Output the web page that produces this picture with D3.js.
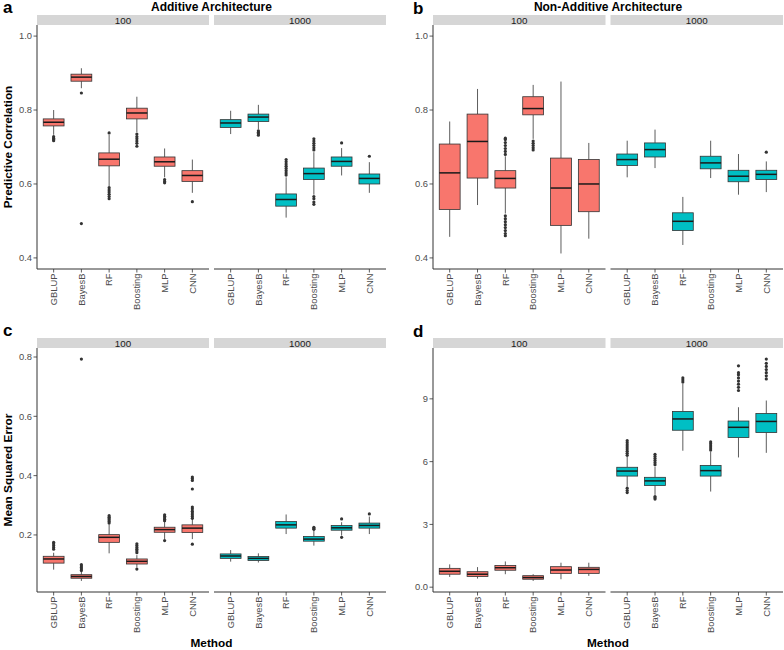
<!DOCTYPE html>
<html><head><meta charset="utf-8">
<script src="https://cdn.jsdelivr.net/npm/d3@7"></script>
<style>
html,body{margin:0;padding:0;background:#fff;}
svg{display:block;font-family:"Liberation Sans",Arial,sans-serif;}
</style></head>
<body>
<svg id="chart" width="784" height="650"></svg>
<script>
const methods = ["GBLUP","BayesB","RF","Boosting","MLP","CNN"];
const facets = ["100","1000"];
const facetColors = ["#F8766D","#00BFC4"];
const tickCor = [0.4,0.6,0.8,1.0];
const tickMseAdd = [0.2,0.4,0.6,0.8];
const tickMseNon = [0,3,6,9];

// box stats: [lower whisker, q1, median, q3, upper whisker]
const addCor100 = [
 [0.733,0.757,0.767,0.776,0.800],
 [0.859,0.878,0.889,0.897,0.913],
 [0.594,0.649,0.667,0.684,0.733],
 [0.740,0.776,0.792,0.805,0.836],
 [0.618,0.648,0.660,0.673,0.696],
 [0.576,0.607,0.623,0.636,0.666]];
const addCor100Out = [[0.728,0.724,0.720,0.717],[0.846,0.493],[0.738,0.590,0.584,0.578,0.572,0.566,0.560],[0.735,0.728,0.722,0.716,0.710,0.702],[0.612,0.607,0.603],[0.552]];
const addCor1000 = [
 [0.735,0.753,0.765,0.774,0.798],
 [0.748,0.769,0.781,0.789,0.814],
 [0.509,0.540,0.558,0.573,0.618],
 [0.571,0.612,0.628,0.643,0.686],
 [0.623,0.648,0.661,0.673,0.697],
 [0.576,0.600,0.615,0.627,0.659]];
const addCor1000Out = [[],[0.744,0.740,0.736,0.732],[0.624,0.630,0.636,0.642,0.648,0.654,0.660,0.666],[0.692,0.698,0.704,0.710,0.716,0.722,0.566,0.560,0.551,0.545],[0.711],[0.675]];

const nonCor100 = [
 [0.457,0.531,0.630,0.708,0.769],
 [0.543,0.616,0.715,0.789,0.857],
 [0.520,0.589,0.615,0.636,0.675],
 [0.722,0.787,0.804,0.836,0.868],
 [0.412,0.488,0.589,0.670,0.877],
 [0.452,0.525,0.600,0.666,0.711]];
const nonCor100Out = [[],[],[0.680,0.688,0.696,0.704,0.712,0.720,0.724,0.514,0.506,0.498,0.490,0.482,0.474,0.466,0.460],[0.716,0.710,0.704,0.698,0.692],[],[]];
const nonCor1000 = [
 [0.618,0.650,0.666,0.681,0.717],
 [0.643,0.673,0.693,0.711,0.747],
 [0.435,0.474,0.499,0.522,0.565],
 [0.616,0.641,0.657,0.675,0.717],
 [0.571,0.606,0.621,0.637,0.681],
 [0.578,0.612,0.626,0.637,0.661]];
const nonCor1000Out = [[],[],[],[],[],[0.686]];

const addMse100 = [
 [0.083,0.105,0.119,0.128,0.140],
 [0.045,0.054,0.060,0.066,0.075],
 [0.138,0.175,0.192,0.201,0.235],
 [0.090,0.102,0.111,0.119,0.132],
 [0.186,0.209,0.218,0.226,0.245],
 [0.186,0.208,0.223,0.234,0.275]];
const addMse100Out = [[0.152,0.158,0.164,0.170,0.175],[0.080,0.085,0.090,0.095,0.100,0.793],[0.240,0.245,0.250,0.255,0.260,0.265],[0.140,0.146,0.152,0.158,0.164,0.170,0.085],[0.248,0.253,0.258,0.263,0.268,0.181],[0.256,0.262,0.268,0.274,0.280,0.288,0.294,0.355,0.384,0.390,0.395,0.169]];
const addMse1000 = [
 [0.110,0.121,0.129,0.136,0.149],
 [0.107,0.114,0.121,0.127,0.138],
 [0.203,0.223,0.234,0.245,0.269],
 [0.164,0.179,0.186,0.195,0.216],
 [0.198,0.216,0.224,0.232,0.243],
 [0.203,0.223,0.232,0.240,0.262]];
const addMse1000Out = [[],[],[],[0.219,0.222,0.226],[0.254,0.192],[0.271]];

const nonMse100 = [
 [0.49,0.62,0.76,0.90,1.09],
 [0.41,0.51,0.62,0.74,0.96],
 [0.62,0.81,0.93,1.04,1.23],
 [0.30,0.38,0.46,0.55,0.62],
 [0.38,0.66,0.82,0.98,1.17],
 [0.54,0.66,0.85,0.95,1.17]];
const nonMse100Out = [[],[],[],[],[],[]];
const nonMse1000 = [
 [4.81,5.31,5.55,5.73,6.23],
 [4.41,4.86,5.08,5.25,5.76],
 [6.52,7.50,8.04,8.40,9.71],
 [4.57,5.31,5.57,5.82,6.47],
 [6.20,7.15,7.64,7.94,8.60],
 [6.42,7.39,7.92,8.30,8.92]];
const nonMse1000Out = [[6.30,6.40,6.50,6.60,6.70,6.80,6.90,7.00,4.73,4.62,4.52],[5.85,5.95,6.05,6.15,6.25,6.35,4.33,4.27,4.21],[9.80,9.90,10.00],[6.55,6.65,6.75,6.85,6.94],[9.40,9.55,9.70,9.85,10.00,10.15,10.25,10.58],[9.95,10.10,10.25,10.40,10.55,10.70,10.90]];

const svg = d3.select("#chart");
const inkTick = "#4d4d4d", inkAxis = "#333333";

function panel(opt) {
  const {x0, x1, y0, y1, letter, title, ytitle, xtitle, stats, outs, ticks, fixed} = opt;
  let dom;
  if (fixed) dom = [fixed[0] - 0.05*(fixed[1]-fixed[0]), fixed[1] + 0.05*(fixed[1]-fixed[0])];
  else {
    const all = [];
    stats.forEach(s => s.forEach(b => all.push(b[0], b[4])));
    outs.forEach(o => o.forEach(l => l.forEach(v => all.push(v))));
    const lo = d3.min(all), hi = d3.max(all), r = hi - lo;
    dom = [lo - 0.05*r, hi + 0.05*r];
  }
  const y = d3.scaleLinear().domain(dom).range([y1, y0]);
  const g = svg.append("g");
  const gap = 5;
  const fw = (x1 - x0 - gap) / 2;
  const stripH = 10;

  facets.forEach((f, fi) => {
    const fx0 = x0 + fi*(fw + gap), fx1 = fx0 + fw;
    const x = d3.scalePoint().domain(methods).range([fx0, fx1]).padding(0.6);
    const bw = x.step() * 0.75;
    // strip
    g.append("rect").attr("x", fx0).attr("y", y0 - stripH).attr("width", fw).attr("height", stripH)
      .attr("fill", "#d6d6d6");
    g.append("text").attr("x", (fx0 + fx1)/2).attr("y", y0 - stripH/2).attr("dy", "0.36em")
      .attr("text-anchor", "middle").attr("font-size", 9.8).attr("fill", "#1a1a1a").text(f);
    // boxes
    const bg = g.append("g");
    methods.forEach((m, mi) => {
      const s = stats[fi][mi];
      const cx = x(m);
      bg.append("line").attr("x1", cx).attr("x2", cx).attr("y1", y(s[4])).attr("y2", y(s[3]))
        .attr("stroke", inkAxis).attr("stroke-width", 0.8);
      bg.append("line").attr("x1", cx).attr("x2", cx).attr("y1", y(s[1])).attr("y2", y(s[0]))
        .attr("stroke", inkAxis).attr("stroke-width", 0.8);
      bg.append("rect").attr("x", cx - bw/2).attr("width", bw)
        .attr("y", y(s[3])).attr("height", y(s[1]) - y(s[3]))
        .attr("fill", facetColors[fi]).attr("stroke", inkAxis).attr("stroke-width", 0.8);
      bg.append("line").attr("x1", cx - bw/2).attr("x2", cx + bw/2).attr("y1", y(s[2])).attr("y2", y(s[2]))
        .attr("stroke", "#1a1a1a").attr("stroke-width", 1.5);
      bg.selectAll(null).data(outs[fi][mi]).enter().append("circle")
        .attr("cx", cx).attr("cy", d => y(d)).attr("r", 1.6).attr("fill", inkAxis);
    });
    // x axis
    const xa = g.append("g").attr("transform", `translate(0,${y1})`);
    xa.append("line").attr("x1", fx0).attr("x2", fx1).attr("y1", 0).attr("y2", 0)
      .attr("stroke", inkAxis).attr("stroke-width", 1);
    methods.forEach(m => {
      xa.append("line").attr("x1", x(m)).attr("x2", x(m)).attr("y1", 0).attr("y2", 3.5)
        .attr("stroke", inkAxis).attr("stroke-width", 0.8);
      xa.append("text").attr("transform", `translate(${x(m)},4.5) rotate(-90)`)
        .attr("text-anchor", "end").attr("dy", "0.35em").attr("font-size", 9.4)
        .attr("fill", inkTick).text(m);
    });
  });
  // y axis
  const ya = g.append("g").attr("transform", `translate(${x0},0)`);
  ya.append("line").attr("x1", 0).attr("x2", 0).attr("y1", y0).attr("y2", y1)
    .attr("stroke", inkAxis).attr("stroke-width", 1);
  ticks.forEach(t => {
    ya.append("line").attr("x1", -3.5).attr("x2", 0).attr("y1", y(t)).attr("y2", y(t))
      .attr("stroke", inkAxis).attr("stroke-width", 0.8);
    ya.append("text").attr("x", -5).attr("y", y(t)).attr("dy", "0.35em").attr("text-anchor", "end")
      .attr("font-size", 9.4).attr("fill", inkTick).text(fixed ? d3.format(".1f")(t) : (ticks[0] < 1 && t < 1 ? d3.format(".1f")(t) : t));
  });
  // letter
  g.append("text").attr("x", letter[1]).attr("y", letter[2]).attr("font-size", 17).attr("font-weight", "bold")
    .attr("fill", "#000").text(letter[0]);
  if (title) g.append("text").attr("x", (x0 + x1)/2).attr("y", 11).attr("text-anchor", "middle")
    .attr("font-size", 12).attr("font-weight", "bold").attr("fill", "#000").text(title);
  if (ytitle) g.append("text").attr("transform", `translate(12,${(y0 + y1)/2}) rotate(-90)`)
    .attr("text-anchor", "middle").attr("font-size", 11.8).attr("font-weight", "bold").attr("fill", "#000").text(ytitle);
  if (xtitle) g.append("text").attr("x", (x0 + x1)/2).attr("y", 647).attr("text-anchor", "middle")
    .attr("font-size", 11.8).attr("font-weight", "bold").attr("fill", "#000").text(xtitle);
}

panel({x0: 37, x1: 386, y0: 25, y1: 269, letter: ["a", 3, 13], title: "Additive Architecture",
  ytitle: "Predictive Correlation", stats: [addCor100, addCor1000], outs: [addCor100Out, addCor1000Out],
  ticks: tickCor, fixed: [0.4, 1.0]});
panel({x0: 433, x1: 783, y0: 25, y1: 269, letter: ["b", 413, 13.5], title: "Non-Additive Architecture",
  stats: [nonCor100, nonCor1000], outs: [nonCor100Out, nonCor1000Out], ticks: tickCor, fixed: [0.4, 1.0]});
panel({x0: 37, x1: 386, y0: 348, y1: 592, letter: ["c", 3, 335.5], ytitle: "Mean Squared Error",
  xtitle: "Method", stats: [addMse100, addMse1000], outs: [addMse100Out, addMse1000Out], ticks: tickMseAdd});
panel({x0: 433, x1: 783, y0: 348, y1: 592, letter: ["d", 413, 337], xtitle: "Method",
  stats: [nonMse100, nonMse1000], outs: [nonMse100Out, nonMse1000Out], ticks: tickMseNon});
</script>
</body></html>
